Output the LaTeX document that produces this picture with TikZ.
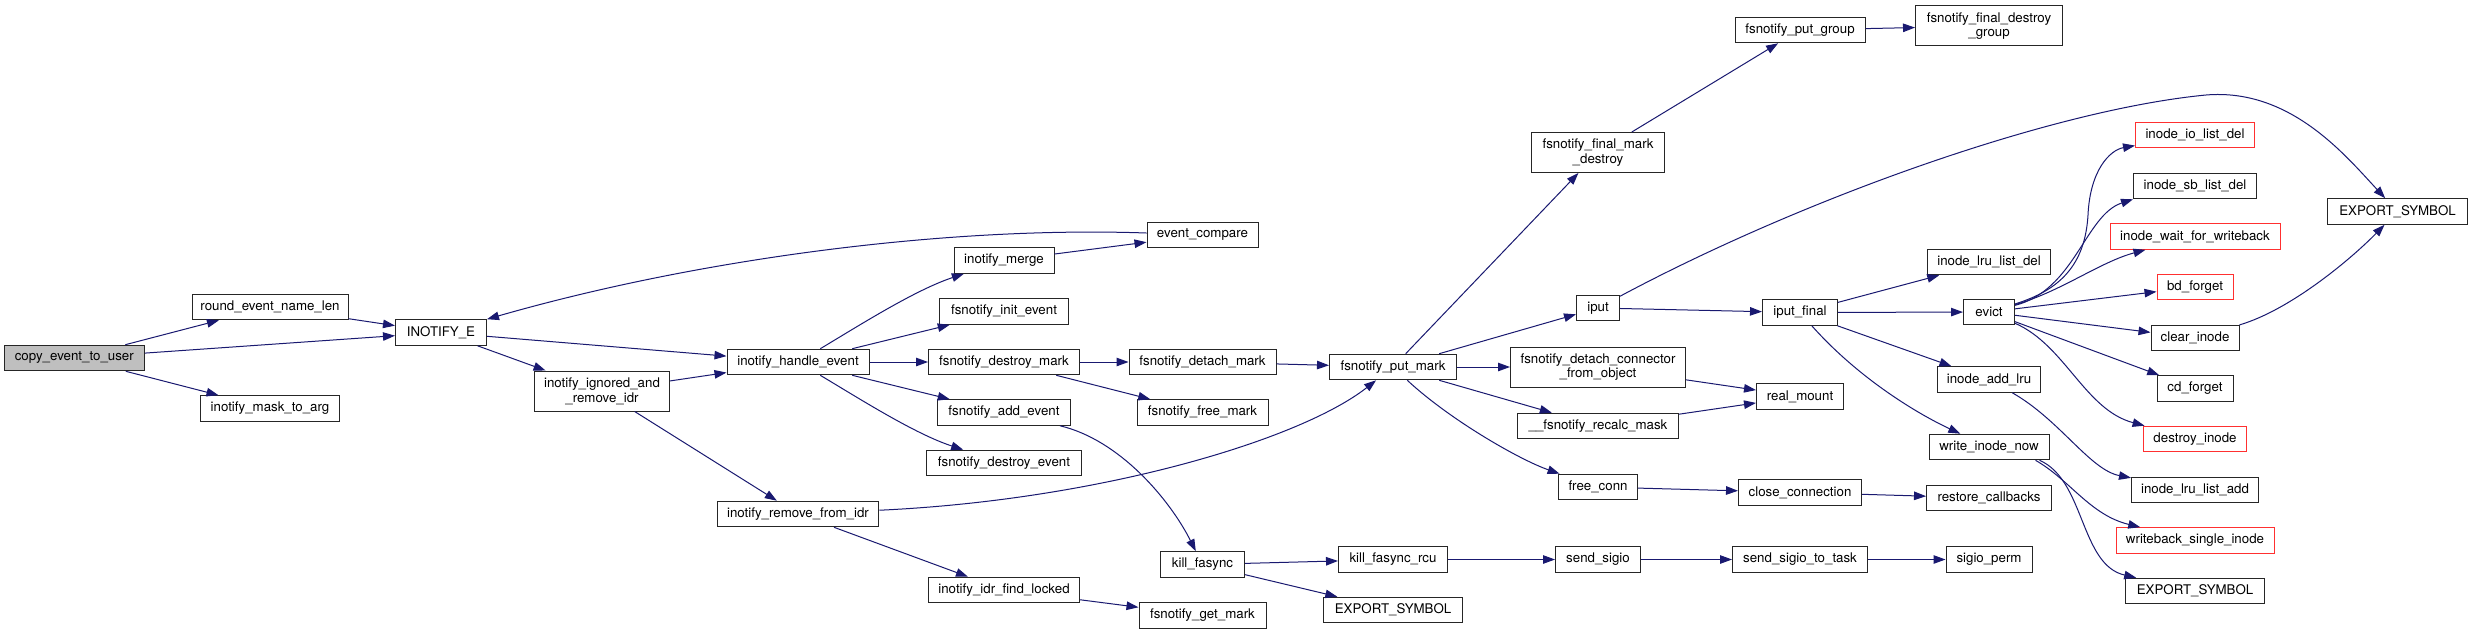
\documentclass[tikz,border=0pt]{standalone}
\usepackage{fontspec}
\setmainfont{TeX Gyre Heros}
\usetikzlibrary{arrows.meta}
\definecolor{mblue}{HTML}{191970}
\definecolor{rootgray}{HTML}{BFBFBF}
\definecolor{redline}{HTML}{FF3030}
\definecolor{boxline}{HTML}{262626}
\begin{document}
\begin{tikzpicture}[x=1pt,y=-1pt,
  box/.style={draw=boxline, line width=1pt, fill=white, inner sep=0pt,
    minimum height=25.6pt, align=center,
    font=\fontsize{13.3}{14.7}\selectfont},
  tall/.style={minimum height=40pt},
  redbox/.style={box, draw=redline},
  rootbox/.style={box, fill=rootgray},
  edge/.style={draw=mblue, line width=1pt, -{Triangle[length=12pt,width=8.5pt]}}]
\fill[white] (0,0) rectangle (2472,634);
\useasboundingbox (0,0) rectangle (2472,634);

% column 1-4
\node[rootbox, minimum width=140pt] (copy) at (74.3,358) {copy\_event\_to\_user};
\node[box, minimum width=156pt] (round) at (270,307) {round\_event\_name\_len};
\node[box, minimum width=139pt] (mask) at (270,408.5) {inotify\_mask\_to\_arg};
\node[box, minimum width=91pt] (inE) at (441,332.5) {INOTIFY\_E};
\node[box, tall, minimum width=135pt] (ign) at (602,391) {inotify\_ignored\_and\\\_remove\_idr};

% column 5-7
\node[box, minimum width=142pt] (handle) at (798,362) {inotify\_handle\_event};
\node[box, minimum width=161.6pt] (rmidr) at (798,514) {inotify\_remove\_from\_idr};
\node[box, minimum width=100pt] (merge) at (1004,260.5) {inotify\_merge};
\node[box, minimum width=129pt] (init) at (1004,311.5) {fsnotify\_init\_event};
\node[box, minimum width=151pt] (dmark) at (1004,362) {fsnotify\_destroy\_mark};
\node[box, minimum width=132.5pt] (adde) at (1004,412.5) {fsnotify\_add\_event};
\node[box, minimum width=155pt] (deve) at (1004,463) {fsnotify\_destroy\_event};
\node[box, minimum width=151pt] (idrf) at (1004,590) {inotify\_idr\_find\_locked};
\node[box, minimum width=111pt] (evc) at (1202.5,235) {event\_compare};
\node[box, minimum width=147pt] (detm) at (1202.5,362) {fsnotify\_detach\_mark};
\node[box, minimum width=131pt] (freem) at (1202.5,412.5) {fsnotify\_free\_mark};
\node[box, minimum width=84pt] (kfa) at (1202.5,564.5) {kill\_fasync};
\node[box, minimum width=127pt] (getm) at (1202.5,615.5) {fsnotify\_get\_mark};

% column 8-9
\node[box, minimum width=127pt] (putm) at (1393,367) {fsnotify\_put\_mark};
\node[box, minimum width=109pt] (kfrcu) at (1393,559.5) {kill\_fasync\_rcu};
\node[box, minimum width=139pt] (expk) at (1393,610) {EXPORT\_SYMBOL};
\node[box, tall, minimum width=133pt] (fmd) at (1598,152.5) {fsnotify\_final\_mark\\\_destroy};
\node[box, minimum width=43pt] (iput) at (1598,308) {iput};
\node[box, tall, minimum width=175pt] (detc) at (1598,367) {fsnotify\_detach\_connector\\\_from\_object};
\node[box, minimum width=161pt] (recalc) at (1598,426) {\_\_fsnotify\_recalc\_mask};
\node[box, minimum width=78.6pt] (freec) at (1598,487) {free\_conn};
\node[box, minimum width=85pt] (ssig) at (1598,559.5) {send\_sigio};

% column 10
\node[box, minimum width=130pt] (putg) at (1800,30) {fsnotify\_put\_group};
\node[box, minimum width=75pt] (iputf) at (1800,312.5) {iput\_final};
\node[box, minimum width=87pt] (realm) at (1800,396.5) {real\_mount};
\node[box, minimum width=123pt] (closec) at (1800,492.5) {close\_connection};
\node[box, minimum width=135pt] (sstask) at (1800,559.5) {send\_sigio\_to\_task};

% column 11
\node[box, tall, minimum width=147pt] (fdg) at (1989,26) {fsnotify\_final\_destroy\\\_group};
\node[box, minimum width=123pt] (lrudel) at (1989,262) {inode\_lru\_list\_del};
\node[box, minimum width=51pt] (evict) at (1989,312) {evict};
\node[box, minimum width=103pt] (addlru) at (1989,379.5) {inode\_add\_lru};
\node[box, minimum width=120pt] (win) at (1989,447) {write\_inode\_now};
\node[box, minimum width=125pt] (restore) at (1989,498) {restore\_callbacks};
\node[box, minimum width=86pt] (sperm) at (1989,559.5) {sigio\_perm};

% column 12
\node[redbox, minimum width=119pt] (iodel) at (2195,135) {inode\_io\_list\_del};
\node[box, minimum width=123pt] (sbdel) at (2195,186) {inode\_sb\_list\_del};
\node[redbox, minimum width=170pt] (wfw) at (2195,236.5) {inode\_wait\_for\_writeback};
\node[redbox, minimum width=76pt] (bdf) at (2195,287) {bd\_forget};
\node[box, minimum width=88pt] (clear) at (2195,338) {clear\_inode};
\node[box, minimum width=76pt] (cdf) at (2195,388.5) {cd\_forget};
\node[redbox, minimum width=103pt] (desti) at (2195,439) {destroy\_inode};
\node[box, minimum width=127pt] (lruadd) at (2195,490) {inode\_lru\_list\_add};
\node[redbox, minimum width=158pt] (wbsi) at (2195,540.5) {writeback\_single\_inode};
\node[box, minimum width=139pt] (expb) at (2195,591) {EXPORT\_SYMBOL};

% column 13
\node[box, minimum width=140pt] (expr) at (2397.5,211.5) {EXPORT\_SYMBOL};

% edges
\draw[edge] (copy) -- (round);
\draw[edge] (copy) -- (inE);
\draw[edge] (copy) -- (mask);
\draw[edge] (round) -- (inE);
\draw[edge] (inE) -- (handle);
\draw[edge] (inE) -- (ign);
\draw[edge] (evc) .. controls (950,226) and (700,258) .. (inE.north east);
\draw[edge] (ign) -- (handle);
\draw[edge] (ign) -- (rmidr);
\draw[edge] (handle) .. controls (860,325) and (915,290) .. (merge);
\draw[edge] (handle) -- (init);
\draw[edge] (handle) -- (dmark);
\draw[edge] (handle) -- (adde);
\draw[edge] (handle) .. controls (860,399) and (915,434) .. (deve);
\draw[edge] (merge) -- (evc);
\draw[edge] (dmark) -- (detm);
\draw[edge] (dmark) -- (freem);
\draw[edge] (detm) -- (putm);
\draw[edge] (adde) .. controls (1120,440) and (1170,500) .. (kfa);
\draw[edge] (rmidr) .. controls (1100,500) and (1300,440) .. (putm);
\draw[edge] (rmidr) -- (idrf);
\draw[edge] (idrf) -- (getm);
\draw[edge] (kfa) -- (kfrcu);
\draw[edge] (kfa) -- (expk);
\draw[edge] (kfrcu) -- (ssig);
\draw[edge] (ssig) -- (sstask);
\draw[edge] (sstask) -- (sperm);
\draw[edge] (putm) -- (fmd);
\draw[edge] (putm) -- (iput);
\draw[edge] (putm) -- (detc);
\draw[edge] (putm) -- (recalc);
\draw[edge] (putm) .. controls (1450,420) and (1520,460) .. (freec);
\draw[edge] (fmd) -- (putg);
\draw[edge] (putg) -- (fdg);
\draw[edge] (iput) .. controls (1800,200) and (2050,110) .. (2206,95)
  .. controls (2290,88) and (2345,155) .. (expr);
\draw[edge] (iput) -- (iputf);
\draw[edge] (detc) -- (realm);
\draw[edge] (recalc) -- (realm);
\draw[edge] (freec) -- (closec);
\draw[edge] (closec) -- (restore);
\draw[edge] (iputf) -- (lrudel);
\draw[edge] (iputf) -- (evict);
\draw[edge] (iputf) -- (addlru);
\draw[edge] (iputf) .. controls (1860,380) and (1920,415) .. (win);
\draw[edge] (evict) .. controls (2060,290) and (2085,265) .. (2088,215)
  .. controls (2090,170) and (2110,150) .. (iodel);
\draw[edge] (evict) .. controls (2075,290) and (2085,215) .. (sbdel.south west);
\draw[edge] (evict) .. controls (2060,292) and (2100,262) .. (wfw);
\draw[edge] (evict) -- (bdf);
\draw[edge] (evict) -- (clear);
\draw[edge] (evict) -- (cdf);
\draw[edge] (evict) .. controls (2065,345) and (2085,410) .. (desti);
\draw[edge] (clear) .. controls (2290,310) and (2350,260) .. (expr);
\draw[edge] (addlru) .. controls (2060,420) and (2090,470) .. (lruadd);
\draw[edge] ([xshift=-14pt]win.south east) .. controls (2070,480) and (2090,515) .. (wbsi);
\draw[edge] ([xshift=-10pt]win.south east) .. controls (2085,480) and (2080,565) .. (expb);
\end{tikzpicture}
\end{document}
